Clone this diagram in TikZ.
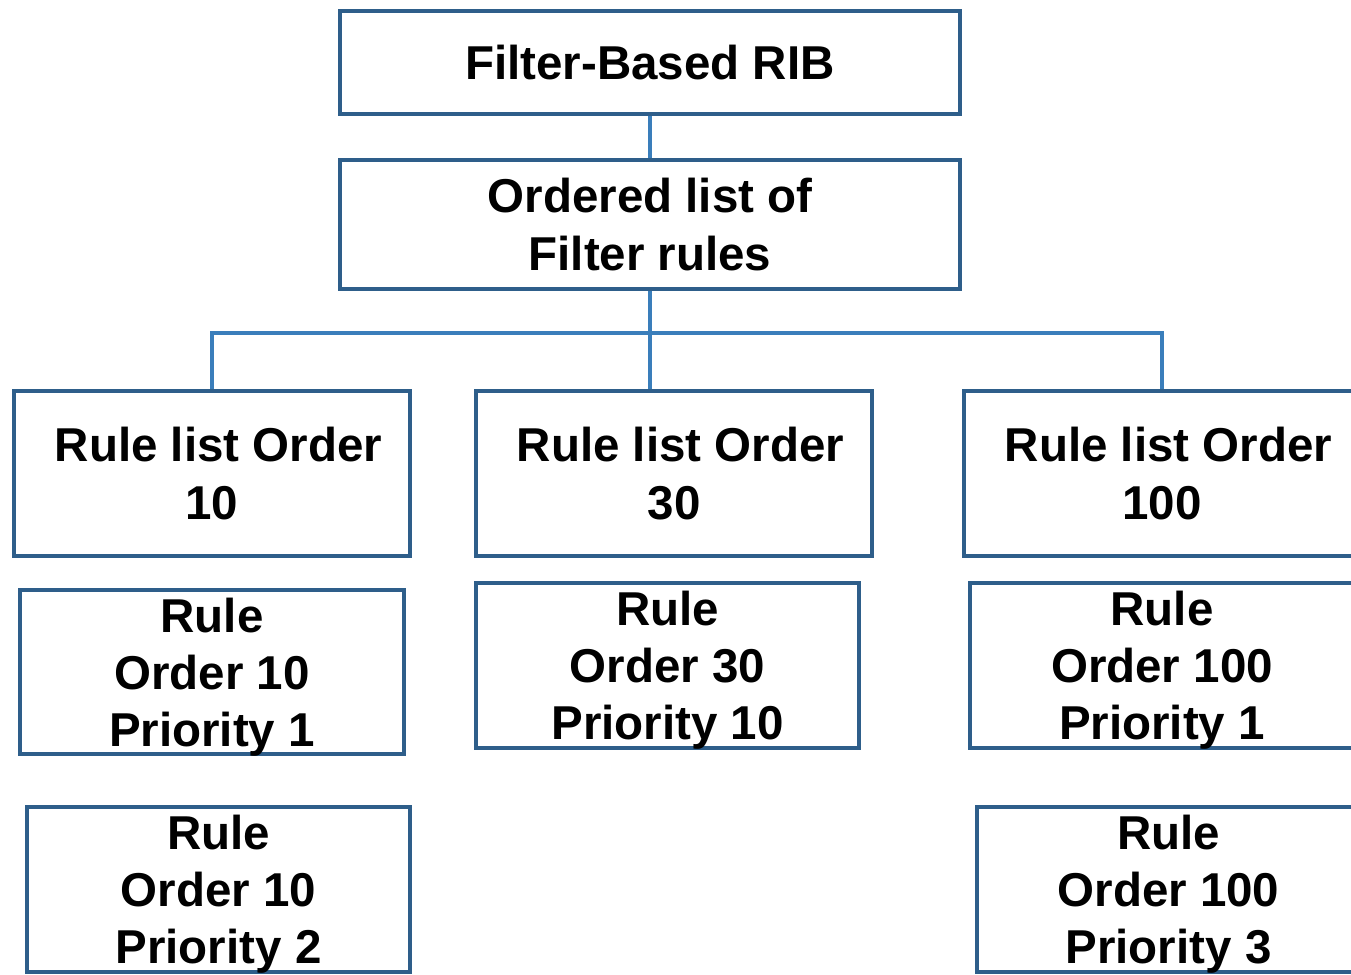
\documentclass[tikz,border=0pt]{standalone}
\usepackage{fontspec}
\setmainfont{Liberation Sans}
\definecolor{boxblue}{HTML}{2E5E8A}
\definecolor{lineblue}{HTML}{3A7EBB}
\begin{document}
\begin{tikzpicture}[x=1pt,y=-1pt,
  box/.style={draw=boxblue,line width=4pt,fill=white,inner sep=0pt,align=center,
    font=\fontsize{47.5}{58}\selectfont\bfseries},
  rulebox/.style={draw=boxblue,line width=4pt,fill=white,inner sep=0pt,
    label={[font=\fontsize{47.5}{57}\selectfont\bfseries,align=center,yshift=-5pt]center:#1}},
  conn/.style={draw=lineblue,line width=4pt}]
\useasboundingbox (0,0) rectangle (1351,974);
\clip (0,0) rectangle (1351,974);
\node[box,minimum width=620pt,minimum height=103pt] (rib) at (650,62.5) {Filter-Based RIB};
\node[box,minimum width=620pt,minimum height=129pt] (ord) at (650,224.5) {Ordered list of\\Filter rules};
\node[box,minimum width=396pt,minimum height=165pt] (l10) at (212,473.5) {\hspace*{13pt}Rule list Order\\10};
\node[box,minimum width=396pt,minimum height=165pt] (l30) at (674,473.5) {\hspace*{13pt}Rule list Order\\30};
\node[box,minimum width=396pt,minimum height=165pt] (l100) at (1162,473.5) {\hspace*{13pt}Rule list Order\\100};
\node[rulebox={Rule\\Order 10\\Priority 1},minimum width=384pt,minimum height=164pt] (r101) at (212,672) {};
\node[rulebox={Rule\\Order 30\\Priority 10},minimum width=383pt,minimum height=165pt] (r3010) at (667.5,665.5) {};
\node[rulebox={Rule\\Order 100\\Priority 1},minimum width=384pt,minimum height=165pt] (r1001) at (1162,665.5) {};
\node[rulebox={Rule\\Order 10\\Priority 2},minimum width=383pt,minimum height=165pt] (r102) at (218.5,889.5) {};
\node[rulebox={Rule\\Order 100\\Priority 3},minimum width=383pt,minimum height=165pt] (r1003) at (1168.5,889.5) {};
\coordinate (bus) at (650,333);
\draw[conn] (rib.south) -- (ord.north);
\draw[conn] (ord.south) -- (ord.south |- l30.north);
\draw[conn] (l10.north) -- (l10.north |- bus) -- (l100.north |- bus) -- (l100.north);
\end{tikzpicture}
\end{document}
